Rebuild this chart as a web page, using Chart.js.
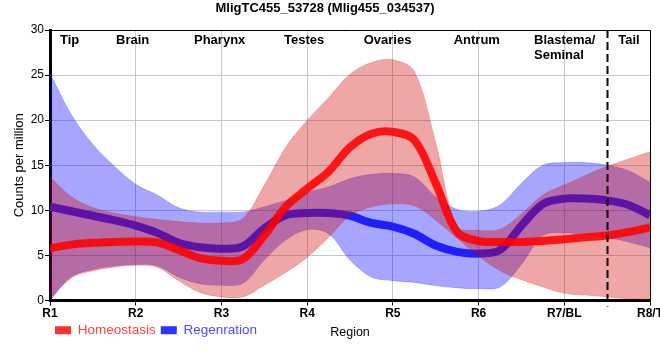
<!DOCTYPE html>
<html>
<head>
<meta charset="utf-8">
<script src="https://cdn.jsdelivr.net/npm/chart.js@4"></script>
<style>
  body { margin: 0; background: #fff; }
  #wrap { width: 660px; height: 360px; }
</style>
</head>
<body>
<div id="wrap"><canvas id="chart" width="660" height="360"></canvas></div>
<script>
// positions along the body (1 = R1 ... 8 = R8/T)
const xPos = [1, 1.25, 1.5, 1.75, 2, 2.25, 2.5, 2.75, 3, 3.25, 3.5, 3.75, 4, 4.25, 4.5, 4.75,
  5, 5.25, 5.5, 5.75, 6, 6.25, 6.5, 6.75, 7, 7.25, 7.5, 7.75, 8];
const xLabels = ["R1", "R2", "R3", "R4", "R5", "R6", "R7/BL", "R8/T"];

// Homeostasis: mean and band
const homeoMean = [5.8, 6.2, 6.4, 6.5, 6.55, 6.45, 5.6, 4.7, 4.4, 4.6, 7.2, 10.4, 12.4, 14.3, 17.0, 18.5,
  18.7, 17.8, 13.0, 7.6, 6.6, 6.5, 6.5, 6.6, 6.8, 7.0, 7.2, 7.6, 8.1];
const homeoUpper = [13.7, 11.5, 10.3, 9.7, 9.3, 9.0, 8.75, 8.6, 8.6, 9.1, 12.8, 17.0, 20.0, 22.5, 25.1, 26.4,
  26.7, 25.4, 17.5, 8.2, 7.8, 7.9, 9.6, 11.7, 12.8, 13.9, 14.9, 15.7, 16.5];
const homeoLower = [0.2, 2.5, 3.3, 3.7, 3.9, 3.7, 2.2, 0.9, 0.4, 0.4, 1.7, 3.1, 4.8, 7.0, 9.4, 10.4,
  10.7, 10.5, 8.9, 6.9, 4.9, 3.3, 2.3, 1.5, 0.8, 0.6, 0.4, 0.2, 0.1];

// Regeneration: mean and band
const regenMean = [10.4, 9.9, 9.4, 8.9, 8.3, 7.5, 6.4, 5.9, 5.75, 6.0, 8.0, 9.45, 9.7, 9.7, 9.4, 8.6,
  8.2, 7.4, 6.1, 5.4, 5.2, 5.6, 8.3, 10.7, 11.3, 11.3, 11.1, 10.6, 9.45];
const regenUpper = [25.2, 20.6, 17.3, 14.9, 12.9, 11.7, 10.3, 9.8, 9.8, 9.8, 10.4, 11.1, 12.0, 12.6, 13.5, 14.0,
  14.1, 13.7, 11.5, 10.1, 9.9, 10.6, 13.0, 15.0, 15.3, 15.3, 15.0, 14.4, 13.1];
const regenLower = [0.0, 2.65, 3.45, 3.85, 4.0, 3.85, 2.6, 1.85, 1.7, 1.9, 4.5, 6.7, 7.85, 7.4, 4.5, 2.6,
  2.2, 2.0, 1.65, 1.4, 1.3, 1.5, 4.0, 7.2, 7.5, 7.3, 7.0, 6.5, 5.85];

// region names written across the top of the plot (left edge in x units)
const regionNames = ["Tip", "Brain", "Pharynx", "Testes", "Ovaries", "Antrum", "Blastema/\nSeminal", "Tail"];
const regionX = [1.117, 1.77, 2.68, 3.73, 4.66, 5.71, 6.647, 7.63];
const tailBoundary = 7.5;

const FONT = "'Liberation Sans', Arial, sans-serif";
const toPoints = arr => xPos.map((x, i) => ({ x: x, y: arr[i] }));

const regionPlugin = {
  id: "regions",
  afterDatasetsDraw(chart) {
    const { ctx, chartArea, scales } = chart;
    ctx.save();
    // dashed boundary before the tail
    const bx = Math.round(scales.x.getPixelForValue(tailBoundary)) + 0.5;
    ctx.strokeStyle = "#000";
    ctx.lineWidth = 2;
    ctx.setLineDash([8, 4]);
    ctx.beginPath();
    ctx.moveTo(bx, chartArea.top);
    ctx.lineTo(bx, chartArea.bottom + 6);
    ctx.stroke();
    ctx.setLineDash([]);
    // thin frame on top / right
    ctx.lineWidth = 1;
    ctx.beginPath();
    ctx.moveTo(chartArea.left, chartArea.top + 0.5);
    ctx.lineTo(chartArea.right + 0.5, chartArea.top + 0.5);
    ctx.lineTo(chartArea.right + 0.5, chartArea.bottom);
    ctx.stroke();
    // region names
    ctx.fillStyle = "#000";
    ctx.font = "bold 13px " + FONT;
    ctx.textAlign = "left";
    ctx.textBaseline = "middle";
    regionNames.forEach((name, i) => {
      const x = scales.x.getPixelForValue(regionX[i]);
      name.split("\n").forEach((line, j) => {
        ctx.fillText(line, x, chartArea.top + 10 + j * 15);
      });
    });
    ctx.restore();
  },
  afterDraw(chart) {
    const { ctx, chartArea, legend } = chart;
    ctx.save();
    ctx.fillStyle = "#000";
    ctx.font = "12.5px " + FONT;
    ctx.textAlign = "center";
    ctx.textBaseline = "middle";
    ctx.fillText("Region", (chartArea.left + chartArea.right) / 2, legend.top + legend.height / 2);
    ctx.restore();
  }
};

const legendText = { 0: "#ff4040", 3: "#4a4aff" };

new Chart(document.getElementById("chart"), {
  type: "line",
  data: {
    datasets: [
      {
        label: "Homeostasis",
        data: toPoints(homeoMean),
        borderColor: "rgba(255,0,0,0.88)",
        backgroundColor: "#ff3030",
        borderWidth: 8,
        order: 0,
      },
      {
        label: "hUpper",
        data: toPoints(homeoUpper),
        borderColor: "rgba(210,0,0,0.2)",
        backgroundColor: "rgba(210,0,0,0.35)",
        borderWidth: 1,
        fill: "+1",
        order: 1,
      },
      {
        label: "hLower",
        data: toPoints(homeoLower),
        borderColor: "rgba(210,0,0,0.2)",
        borderWidth: 1,
        order: 2,
      },
      {
        label: "Regenration",
        data: toPoints(regenMean),
        borderColor: "#1e1eff",
        backgroundColor: "#3030ff",
        borderWidth: 8,
        order: 3,
      },
      {
        label: "rUpper",
        data: toPoints(regenUpper),
        borderColor: "rgba(0,0,255,0.2)",
        backgroundColor: "rgba(0,0,255,0.35)",
        borderWidth: 1,
        fill: "+1",
        order: 4,
      },
      {
        label: "rLower",
        data: toPoints(regenLower),
        borderColor: "rgba(0,0,255,0.2)",
        borderWidth: 1,
        order: 5,
      },
    ],
  },
  options: {
    responsive: false,
    animation: false,
    elements: { point: { radius: 0 }, line: { tension: 0.35 } },
    layout: { padding: { left: 0, right: 10, top: 0, bottom: 13 } },
    plugins: {
      tooltip: { enabled: false },
      title: {
        display: true,
        text: "MligTC455_53728 (Mlig455_034537)",
        color: "#000",
        font: { family: FONT, size: 13, weight: "bold" },
        padding: { top: 1, bottom: 13.4 },
      },
      legend: {
        position: "bottom",
        align: "start",
        fullSize: false,
        labels: {
          boxWidth: 16,
          boxHeight: 8,
          padding: 5,
          font: { family: FONT, size: 13.5 },
          generateLabels(chart) {
            const items = Chart.defaults.plugins.legend.labels.generateLabels(chart);
            return items
              .filter(it => it.datasetIndex === 0 || it.datasetIndex === 3)
              .map(it => {
                it.fontColor = legendText[it.datasetIndex];
                it.lineWidth = 0;
                return it;
              });
          },
        },
      },
    },
    scales: {
      x: {
        type: "linear",
        min: 1,
        max: 8,
        afterFit(scale) { scale.height = 18; scale.paddingLeft = 0; scale.paddingRight = 0; },
        afterBuildTicks(scale) { scale.ticks = xLabels.map((_, i) => ({ value: i + 1 })); },
        border: { color: "#000", width: 3 },
        grid: { color: "#c8c8c8", tickColor: "#000", tickLength: 5 },
        ticks: {
          color: "#000",
          padding: 1,
          maxRotation: 0,
          font: { family: FONT, size: 12, weight: "bold" },
          callback: v => xLabels[v - 1],
        },
      },
      y: {
        min: 0,
        max: 30,
        afterFit(scale) { scale.width = 50; },
        border: { color: "#000", width: 3 },
        grid: { color: "#c8c8c8", tickColor: "#000", tickLength: 5 },
        ticks: { stepSize: 5, color: "#000", padding: 1, font: { family: FONT, size: 12 } },
        title: {
          display: true,
          text: "Counts per million",
          color: "#000",
          font: { family: FONT, size: 13 },
          padding: { top: 12, bottom: 0 },
        },
      },
    },
  },
  plugins: [regionPlugin],
});
</script>
</body>
</html>
